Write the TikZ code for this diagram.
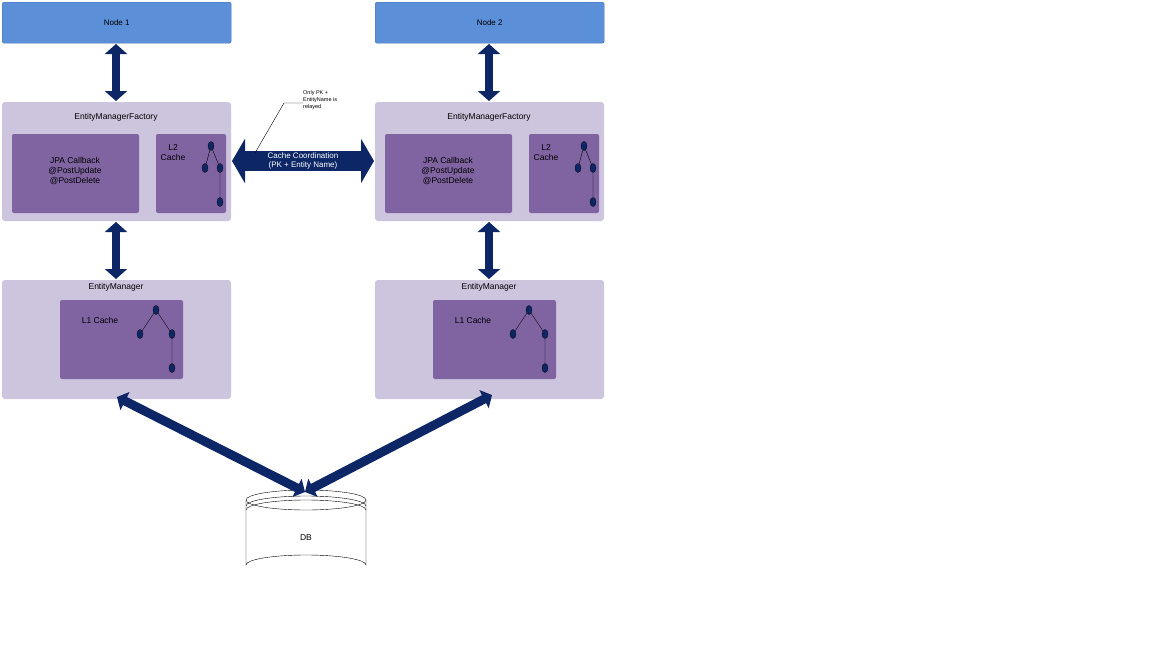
\documentclass[tikz,border=0pt]{standalone}
\usepackage{fontspec}
\setmainfont{Liberation Sans}
\usetikzlibrary{arrows.meta,shapes.geometric}
\definecolor{nodeblue}{HTML}{5B8FD8}
\definecolor{lav}{HTML}{CDC4DE}
\definecolor{purp}{HTML}{8064A2}
\definecolor{navy}{HTML}{0D2766}
\tikzset{x=1pt,y=-1pt,
 top/.style={fill=nodeblue,draw=nodeblue!80!black,line width=0.4pt,rounded corners=2pt,font=\fontsize{8}{9}\selectfont},
 outer/.style={fill=lav,rounded corners=3pt},
 inner/.style={fill=purp,rounded corners=2pt},
 lbl/.style={font=\fontsize{8.5}{10}\selectfont,align=center,inner sep=0pt},
 tn/.style={circle,fill=navy,draw=black,line width=0.3pt,minimum width=6pt,minimum height=9pt,inner sep=0pt,ellipse},
 varr/.style={navy,line width=8pt,{Triangle[width=22pt,length=10pt]}-{Triangle[width=22pt,length=10pt]}},
 darr/.style={navy,line width=9pt,{Triangle[width=20pt,length=9pt]}-{Triangle[width=20pt,length=9pt]}},
}
\begin{document}
\begin{tikzpicture}
\useasboundingbox (0,0) rectangle (1152,648);
\fill[white] (0,0) rectangle (1152,648);
\foreach \s/\X/\n in {a/0/1,b/373/2}{
 \begin{scope}[xshift=\X]
 \node[top,minimum width=229pt,minimum height=41pt,anchor=north west] (top\s) at (2,2) {Node \n};
 \path[outer] (2,102) rectangle (231,221);
 \node[lbl] (emf\s) at (116,117) {EntityManagerFactory};
 \path[inner] (12,134) rectangle (139,213);
 \node[lbl,white!90!black,text=black] (jpa\s) at (75,171) {JPA Callback\\@PostUpdate\\@PostDelete};
 \path[inner] (156,134) rectangle (226,213);
 \node[lbl] (l2\s) at (173,153) {L2\\Cache};
 \node[tn] (p\s1) at (211,146) {}; \node[tn] (p\s2) at (205,168) {};
 \node[tn] (p\s3) at (220,168) {}; \node[tn] (p\s4) at (220,202) {};
 \draw (p\s1)--(p\s2) (p\s1)--(p\s3) (p\s3)--(p\s4);
 \path[outer] (2,280) rectangle (231,399);
 \node[lbl] (em\s) at (116,287) {EntityManager};
 \path[inner] (60,300) rectangle (183,379);
 \node[lbl] (l1\s) at (100,320) {L1 Cache};
 \node[tn] (q\s1) at (156,310) {}; \node[tn] (q\s2) at (140,334) {};
 \node[tn] (q\s3) at (172,334) {}; \node[tn] (q\s4) at (172,368) {};
 \draw (q\s1)--(q\s2) (q\s1)--(q\s3) (q\s3)--(q\s4);
 \coordinate (v\s1) at (116,44); \coordinate (v\s2) at (116,101);
 \coordinate (v\s3) at (116,222); \coordinate (v\s4) at (116,279);
 \draw[varr] (v\s1)--(v\s2);
 \draw[varr] (v\s3)--(v\s4);
 \end{scope}}
% horizontal arrow
\coordinate (hl) at (232,161); \coordinate (hr) at (374,161);
\draw[navy,line width=20pt,{Triangle[width=44pt,length=13pt]}-{Triangle[width=44pt,length=13pt]}] (hl)--(hr);
\node[lbl,text=white,font=\fontsize{8}{9}\selectfont] (cc) at (303,161) {Cache Coordination\\(PK + Entity Name)};
% callout
\node[font=\fontsize{5.5}{7}\selectfont,align=left,anchor=north west,inner sep=0pt] (note) at (303,90) {Only PK +\\EntityName is\\relayed};
\coordinate (n1) at (284,103); \coordinate (n2) at (255,153);
\draw[line width=0.4pt] (note.west |- 0,103) -- (n1) -- (n2);
% DB
\def\cx{306}
\draw[fill=white] (246,500) -- (246,565) arc[start angle=180,end angle=360,x radius=60,y radius=10] -- (366,500);
\draw[fill=white] (306,500) ellipse[x radius=60,y radius=10];
\draw (246,506) arc[start angle=180,end angle=360,x radius=60,y radius=10];
\draw (246,510) arc[start angle=180,end angle=360,x radius=60,y radius=10];
\node[lbl] (db) at (306,538) {DB};
\coordinate (dtop) at (305,492);
\coordinate (dl) at (117,397); \coordinate (dr) at (492,395);
\draw[darr] (dl)--(dtop);
\draw[darr] (dtop)--(dr);
\end{tikzpicture}
\end{document}
